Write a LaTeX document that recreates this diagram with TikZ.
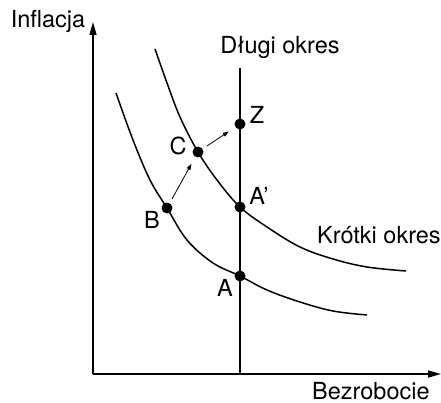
\documentclass[tikz,border=0pt]{standalone}
\usepackage{fontspec}
\setmainfont{TeX Gyre Heros}
\usetikzlibrary{arrows.meta}
\tikzset{
  dot/.style={circle,fill=black,inner sep=0pt,outer sep=0pt,minimum size=11pt},
  lbl/.style={inner sep=0pt,font=\fontsize{23.5}{27}\selectfont},
  axis/.style={line width=1.5pt,-{Triangle[length=13pt,width=7pt]}},
  curve/.style={line width=1.5pt},
  move/.style={line width=0.8pt,-{Triangle[length=6pt,width=4pt]},shorten <=5pt,shorten >=8pt}
}
\begin{document}
\begin{tikzpicture}[x=1pt,y=-1pt]
\useasboundingbox (0,0) rectangle (441,403);
% axes
\coordinate (O) at (93,374);
\coordinate (Ytip) at (93,22);
\coordinate (Xtip) at (441,374);
\draw[axis] (O) -- (Ytip);
\draw[axis] (O) -- (Xtip);
% long-run line
\coordinate (LRtop) at (240,68);
\coordinate (LRbot) at (240,374);
\draw[curve] (LRbot) -- (LRtop);
% points
\node[dot] (Z) at (240,124) {};
\node[dot] (C) at (198,152) {};
\node[dot] (A2) at (240,207) {};
\node[dot] (B) at (167,208) {};
\node[dot] (A) at (240,276) {};
% short-run curves
\draw[curve] plot[smooth,tension=0.6] coordinates {(155,49) (167,83) (180,117) (C) (217,180) (A2) (267,227) (300,247) (333,259) (367,267) (406,271)};
\draw[curve] plot[smooth,tension=0.6] coordinates {(116,93) (133,140) (150,180) (B) (187,240) (213,263) (A) (267,290) (300,302) (333,311) (367,315)};
% moves
\draw[move] (B) -- (C);
\draw[move] (C) -- (Z);
% labels
\node[lbl] (tInf) at (48,21) {Inflacja};
\node[lbl] (tLR) at (280,47) {Długi okres};
\node[lbl] (tZ) at (257,115) {Z};
\node[lbl] (tC) at (178,146) {C};
\node[lbl] (tA2) at (259,196) {A’};
\node[lbl] (tB) at (152,220) {B};
\node[lbl] (tA) at (225,288) {A};
\node[lbl,anchor=west] (tSR) at (317,235) {Krótki okres};
\node[lbl,anchor=west] (tBez) at (312,391) {Bezrobocie};
\end{tikzpicture}
\end{document}
